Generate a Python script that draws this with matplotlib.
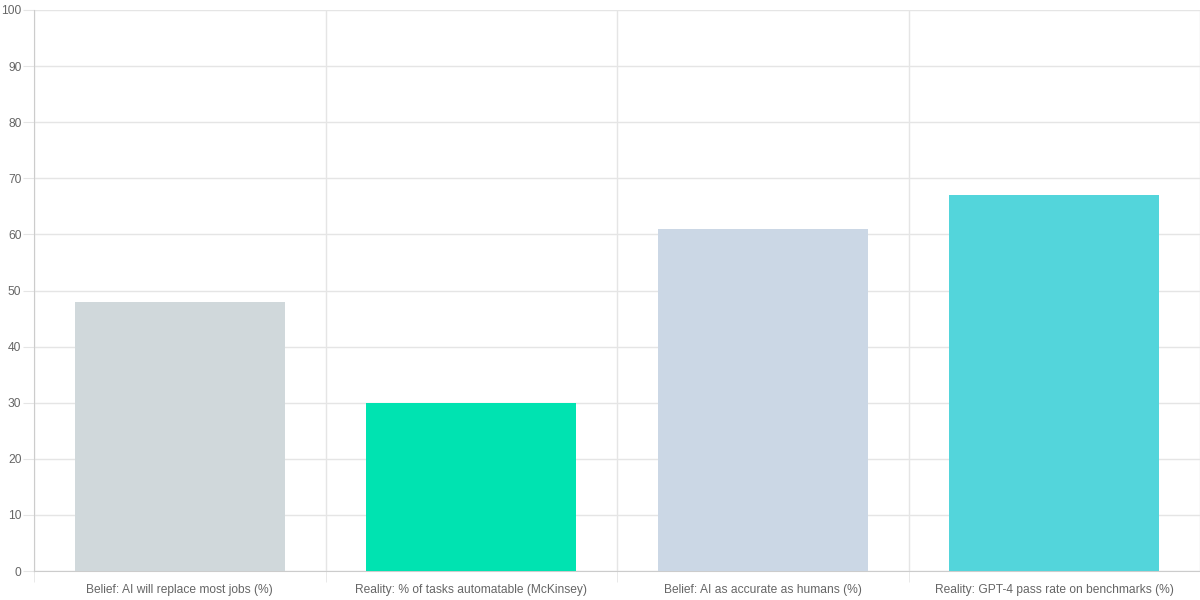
import matplotlib
matplotlib.use("Agg")
import matplotlib.pyplot as plt
import numpy as np

categories = [
    "Belief: AI will replace most jobs (%)",
    "Reality: % of tasks automatable (McKinsey)",
    "Belief: AI as accurate as humans (%)",
    "Reality: GPT-4 pass rate on benchmarks (%)",
]
values = [48, 30, 61, 67]
colors = ["#D0D8DB", "#00E3B1", "#CBD7E5", "#53D5DB"]
y_ticks = [0, 10, 20, 30, 40, 50, 60, 70, 80, 90, 100]

plt.rcParams["font.family"] = ["Liberation Sans", "DejaVu Sans"]

fig = plt.figure(figsize=(12, 6), dpi=100)
ax = fig.add_axes([34 / 1200, 29 / 600, 1166 / 1200, 561 / 600])

x = np.arange(len(categories))
ax.bar(x, values, width=0.72, color=colors, zorder=3)

grid_c = "#E5E5E5"
ax.set_xlim(-0.5, len(categories) - 0.5)
ax.set_ylim(0, 100)
ax.set_yticks(y_ticks)
ax.set_yticklabels([str(v) for v in y_ticks])
ax.set_xticks(x)
ax.set_xticklabels(categories)
ax.set_xticks(np.arange(-0.5, len(categories) + 0.5, 1.0), minor=True)

ax.tick_params(axis="y", length=8, color=grid_c, labelsize=8.64, labelcolor="#666666", pad=1)
ax.tick_params(axis="x", which="major", length=0, labelsize=8.64, labelcolor="#666666", pad=9)
ax.tick_params(axis="x", which="minor", length=8, color=grid_c)

ax.grid(axis="y", color=grid_c, linewidth=1, zorder=0)
ax.grid(axis="x", which="minor", color=grid_c, linewidth=1, zorder=0)
ax.grid(axis="x", which="major", visible=False)

for s in ["top", "right"]:
    ax.spines[s].set_visible(False)
ax.spines["left"].set_color("#CCCCCC")
ax.spines["bottom"].set_color("#CCCCCC")

fig.savefig("out.png", dpi=100)
